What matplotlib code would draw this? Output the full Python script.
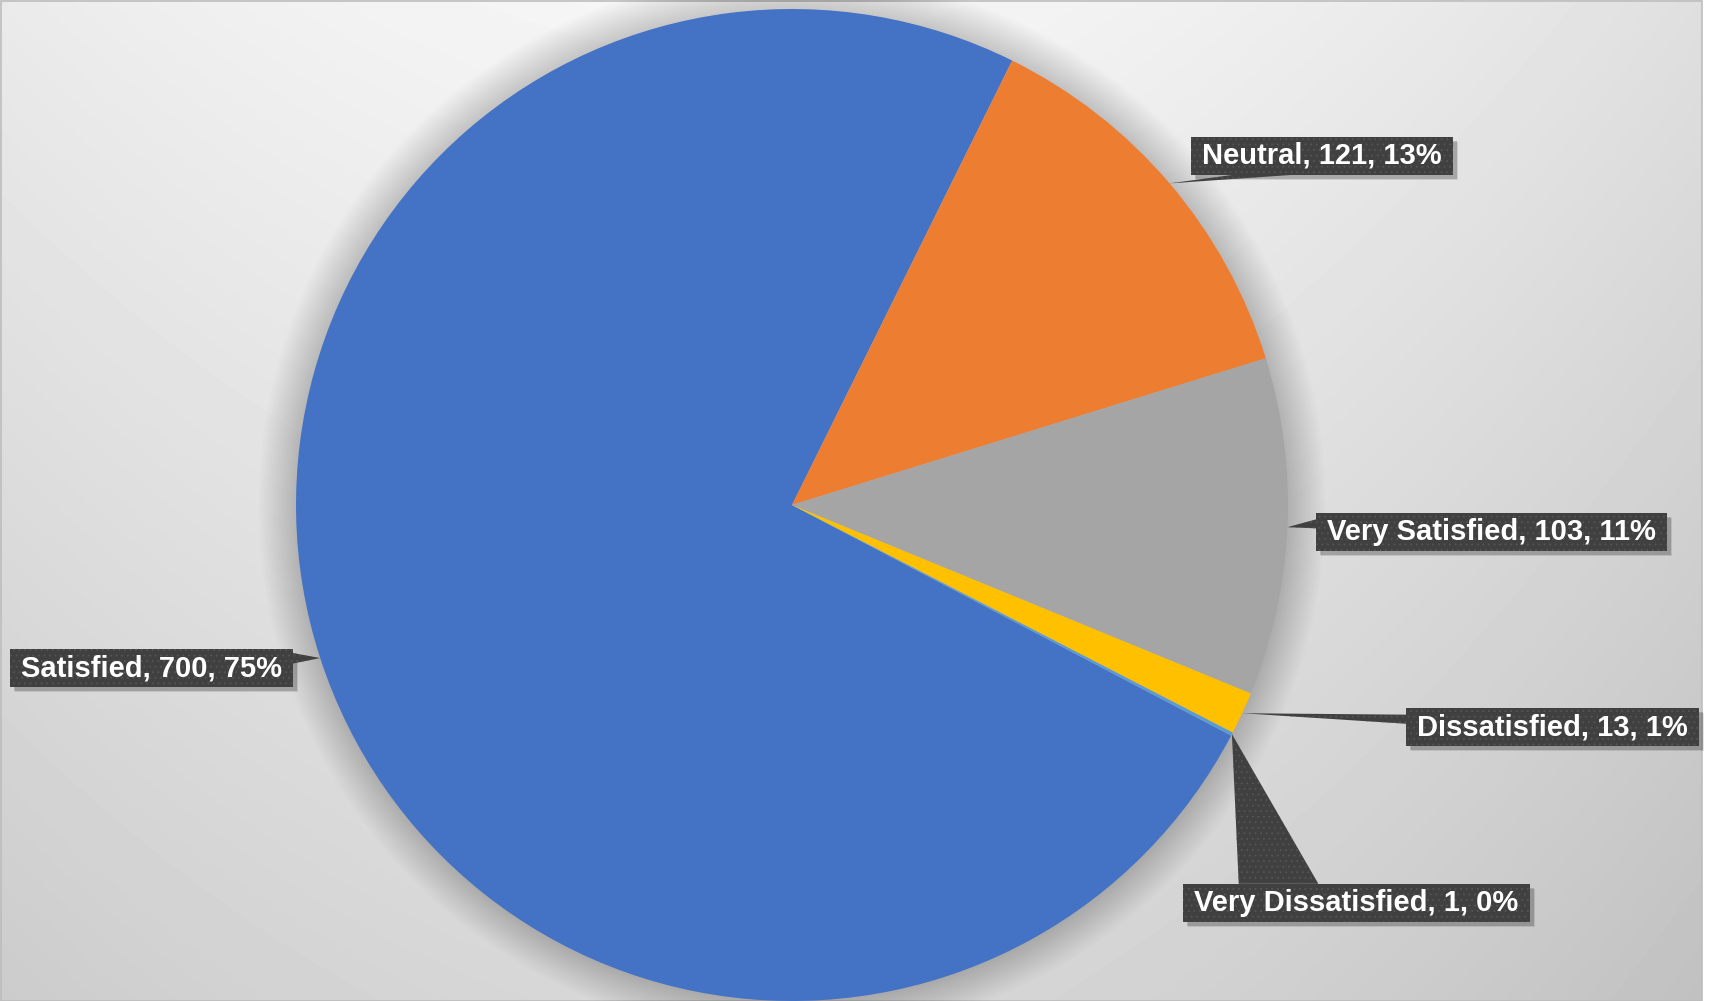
import matplotlib.pyplot as plt
import numpy as np
from matplotlib.patches import Rectangle, Polygon, Circle

plt.rcParams['hatch.linewidth'] = 0.6

# data
labels = ['Satisfied', 'Neutral', 'Very Satisfied', 'Dissatisfied', 'Very Dissatisfied']
counts = [700, 121, 103, 13, 1]
percents = [75, 13, 11, 1, 0]
colors = ['#4472C4', '#ED7D31', '#A5A5A5', '#FFC000', '#5B9BD5']

# label box centres (in pie radius units) and which side the pointer leaves from
label_pos = [(-1.292, -0.329), (1.069, 0.704), (1.411, -0.054), (1.534, -0.448), (1.138, -0.802)]
label_side = ['right', 'bottom', 'left', 'left', 'top']

W, H = 1716, 1001
fig = plt.figure(figsize=(W / 100, H / 100), dpi=100)

# grey gradient background
bg = fig.add_axes([0, 0, 1, 1])
xx, yy = np.meshgrid(np.arange(1702), np.arange(H))
v = 0.965 - 0.12 * (yy / 1000) - 0.06 * ((xx - 800) / 900) ** 2 - 0.03 * np.clip(xx - 800, 0, None) / 900
bg.imshow(v, cmap='gray', vmin=0, vmax=1, extent=(0, 1702, H, 0), aspect='auto', interpolation='bilinear')
bg.add_patch(Rectangle((0.5, 0.5), 1701, H - 1, fill=False, edgecolor='#bdbdbd', lw=1.2))
bg.set_xlim(0, W)
bg.set_ylim(H, 0)
bg.axis('off')

# pie
cx, cy, R = 792, 505, 496
ax = fig.add_axes([(cx - R) / W, (H - cy - R) / H, 2 * R / W, 2 * R / H])
ax.patch.set_alpha(0)

# soft shadow round the pie
for k in range(15):
    ax.add_patch(Circle((0, 0), 1 + 0.005 * (k + 1), color='black', alpha=0.01, lw=0,
                        zorder=0, clip_on=False))

wedges, _ = ax.pie(counts, colors=colors, startangle=-27.7, counterclock=False,
                   radius=1, wedgeprops=dict(linewidth=0), frame=False)
for w in wedges:
    w.set_zorder(1)
    w.set_clip_on(False)
ax.set_xlim(-1, 1)
ax.set_ylim(-1, 1)
ax.axis('off')

texts = []
for lab, n, p, (lx, ly) in zip(labels, counts, percents, label_pos):
    t = ax.text(lx, ly, f'{lab}, {n}, {p}%', ha='center', va='center',
                fontsize=21, fontweight='bold', family='Liberation Sans',
                color='white', zorder=6, clip_on=False)
    texts.append(t)

fig.canvas.draw()
renderer = fig.canvas.get_renderer()
inv = ax.transData.inverted()

box_col = '#404040'
for w, t, side in zip(wedges, texts, label_side):
    bb = t.get_window_extent(renderer)
    x0, x1 = bb.x0 - 11, bb.x1 + 11
    y0, y1 = bb.y0 - 5, bb.y1 + 5
    bw, bh = x1 - x0, y1 - y0

    # apex at wedge edge, mid angle
    mid = np.deg2rad((w.theta1 + w.theta2) / 2)
    apex = ax.transData.transform((np.cos(mid), np.sin(mid)))

    if side == 'bottom':
        base = [(x0 + 0.16 * bw, y0), (x0 + 0.39 * bw, y0)]
    elif side == 'top':
        base = [(x0 + 0.16 * bw, y1), (x0 + 0.39 * bw, y1)]
    elif side == 'left':
        base = [(x0, y1 - 0.17 * bh), (x0, y1 - 0.41 * bh)]
    else:
        base = [(x1, y1 - 0.10 * bh), (x1, y1 - 0.38 * bh)]

    # drop shadow
    for off, a in [(5, 0.10), (4, 0.18)]:
        sx0, sy0 = inv.transform((x0 + off, y0 - off))
        sx1, sy1 = inv.transform((x1 + off, y1 - off))
        ax.add_patch(Rectangle((sx0, sy0), sx1 - sx0, sy1 - sy0, facecolor='black',
                               alpha=a, lw=0, zorder=3, clip_on=False))

    dx0, dy0 = inv.transform((x0, y0))
    dx1, dy1 = inv.transform((x1, y1))
    ax.add_patch(Rectangle((dx0, dy0), dx1 - dx0, dy1 - dy0, facecolor=box_col,
                           edgecolor='#555555', hatch='...', lw=0, zorder=5, clip_on=False))
    tri = inv.transform(np.array([apex] + base))
    ax.add_patch(Polygon(tri, closed=True, facecolor=box_col, edgecolor='#555555',
                         hatch='...', lw=0, zorder=4, clip_on=False))

fig.savefig('out.png', dpi=100)
